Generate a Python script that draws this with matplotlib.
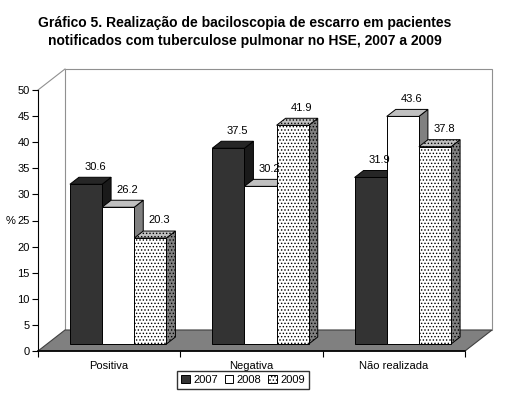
import matplotlib
matplotlib.use("Agg")
import matplotlib.pyplot as plt
from matplotlib.patches import Polygon
from matplotlib.lines import Line2D

# data
categories = ["Positiva", "Negativa", "Não realizada"]
years = ["2007", "2008", "2009"]
v2007 = [30.6, 37.5, 31.9]
v2008 = [26.2, 30.2, 43.6]
v2009 = [20.3, 41.9, 37.8]
title = ("Gráfico 5. Realização de baciloscopia de escarro em pacientes\n"
         "notificados com tuberculose pulmonar no HSE, 2007 a 2009")

plt.rcParams["font.family"] = ["Liberation Sans", "DejaVu Sans"]
plt.rcParams["hatch.linewidth"] = 0.6

W, H = 505, 413
fig = plt.figure(figsize=(W / 100, H / 100), dpi=100)
ax = fig.add_axes([38 / W, 62 / H, 427 / W, 261 / H])
ax.set_xlim(0, 3)
ax.set_ylim(0, 50)
ax.patch.set_visible(False)

# oblique depth offset in data units
DX = 27 / 427 * 3
DY = 21 / 261 * 50

def P(x, y, d):
    return (x + d * DX, y + d * DY)

# walls
floor = Polygon([P(0, 0, 0), P(3, 0, 0), P(3, 0, 1), P(0, 0, 1)],
                closed=True, facecolor="#808080", edgecolor="#404040",
                lw=0.8, clip_on=False, zorder=1)
ax.add_patch(floor)
back = Polygon([P(0, 0, 1), P(3, 0, 1), P(3, 50, 1), P(0, 50, 1)],
               closed=True, facecolor="white", edgecolor="#909090",
               lw=0.8, clip_on=False, zorder=0)
ax.add_patch(back)
ax.add_line(Line2D([P(0, 50, 0)[0], P(0, 50, 1)[0]],
                   [P(0, 50, 0)[1], P(0, 50, 1)[1]],
                   color="#909090", lw=0.8, clip_on=False, zorder=0))

styles = [
    dict(front="#333333", top="#262626", side="#1a1a1a", hatch=None),
    dict(front="white", top="#c0c0c0", side="#808080", hatch=None),
    dict(front="white", top="#c0c0c0", side="#808080", hatch="....."),
]
series = [v2007, v2008, v2009]

bw = 0.226
start = 0.161
d0, d1 = 1 / 3, 2 / 3
for i in range(len(categories)):
    for j, vals in enumerate(series):
        v = vals[i]
        st = styles[j]
        x0 = i + start + j * bw
        x1 = x0 + bw
        kw = dict(closed=True, edgecolor="black", lw=0.7, clip_on=False,
                  zorder=3 + j, hatch=st["hatch"])
        ax.add_patch(Polygon([P(x1, 0, d0), P(x1, 0, d1), P(x1, v, d1), P(x1, v, d0)],
                             facecolor=st["side"], **kw))
        ax.add_patch(Polygon([P(x0, v, d0), P(x1, v, d0), P(x1, v, d1), P(x0, v, d1)],
                             facecolor=st["top"], **kw))
        ax.add_patch(Polygon([P(x0, 0, d0), P(x1, 0, d0), P(x1, v, d0), P(x0, v, d0)],
                             facecolor=st["front"], **kw))
        lx, ly = P((x0 + x1) / 2, v, d1)
        ax.annotate(f"{v:.1f}", (lx, ly), xytext=(0, 4), textcoords="offset points",
                    ha="center", va="bottom", fontsize=8, zorder=10,
                    annotation_clip=False)

# axes styling
for s in ["top", "right"]:
    ax.spines[s].set_visible(False)
ax.spines["left"].set_linewidth(0.8)
ax.spines["bottom"].set_linewidth(1.2)
ax.spines["bottom"].set_zorder(2)
ax.set_yticks(range(0, 51, 5))
ax.tick_params(axis="y", direction="out", length=4, width=0.8, labelsize=8, pad=2)
ax.set_xticks([0, 1, 2, 3])
ax.set_xticklabels([])
ax.set_xticks([0.5, 1.5, 2.5], minor=True)
ax.set_xticklabels(categories, minor=True)
ax.tick_params(axis="x", which="major", direction="out", length=4, width=0.8)
ax.tick_params(axis="x", which="minor", length=0, labelsize=8, pad=7)
ax.set_ylabel("%", rotation=0, fontsize=8, va="center", ha="center")
ax.yaxis.set_label_coords(-27 / 427, 0.5)

fig.text(245 / W, 1 - 32 / H, title, ha="center", va="center",
         fontsize=10, fontweight="bold", linespacing=1.35)

handles = [Polygon([[0, 0]], facecolor=st["front"], edgecolor="black",
                   hatch=st["hatch"], lw=0.7) for st in styles]
fig.legend(handles, years, loc="center", bbox_to_anchor=(243 / W, 1 - 380 / H),
           ncol=3, fontsize=8, frameon=True, fancybox=False, edgecolor="black",
           handlelength=0.8, handleheight=0.8, handletextpad=0.3,
           columnspacing=0.6, borderpad=0.35, borderaxespad=0)

fig.savefig("out.png", dpi=100)
